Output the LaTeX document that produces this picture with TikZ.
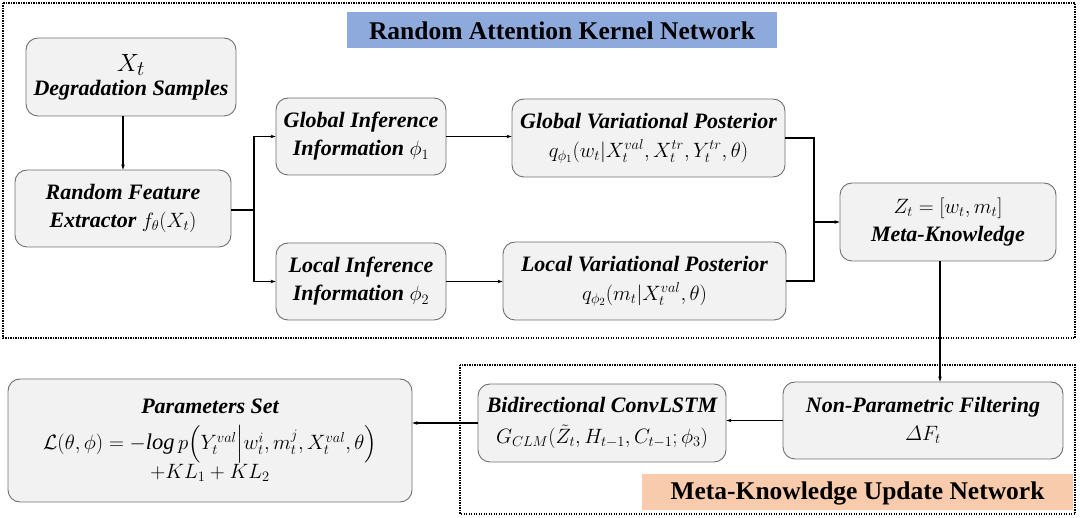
\documentclass[tikz,border=0pt]{standalone}
\usepackage{amsmath}
\usepackage{fontspec}
\setmainfont{LiberationSerif}[Extension=.ttf, UprightFont=*-Regular, BoldFont=*-Bold, ItalicFont=*-Italic, BoldItalicFont=*-BoldItalic]
\usetikzlibrary{arrows.meta,calc}
\definecolor{boxfill}{HTML}{F2F2F2}
\definecolor{boxline}{HTML}{707070}
\definecolor{titleblue}{HTML}{8EA9DB}
\definecolor{titleorange}{HTML}{F8CBAD}
\tikzset{
  blk/.style={draw=boxline, line width=0.9pt, fill=boxfill, rounded corners=12pt,
    align=center, inner sep=0pt, font=\fontsize{22}{28}\selectfont},
  arr/.style={line width=1.2pt, -{Stealth[length=5pt,width=3.5pt]}},
  conn/.style={line width=1.2pt},
  dotbox/.style={line width=1.3pt, dash pattern=on 1.3pt off 1.2pt},
  ttl/.style={inner sep=0pt, font=\fontsize{25.5}{30}\selectfont\bfseries}
}
\newcommand{\bi}[1]{{\bfseries\itshape #1}}
\newcommand{\mth}[1]{{\fontsize{22.5}{28}\selectfont$#1$}}
\begin{document}
\begin{tikzpicture}[x=1pt,y=-1pt]
\useasboundingbox (0,0) rectangle (1080,518);
% containers
\draw[dotbox] (3,3) rectangle (1075,338);
\draw[dotbox] (460,365) rectangle (1075,514);
\fill[titleblue] (347,12) rectangle (777,48);
\node[ttl] (t1) at (562,31) {Random Attention Kernel Network};
\fill[titleorange] (642,474) rectangle (1073,510);
\node[ttl] (t2) at (857.5,493) {Meta-Knowledge Update Network};
% nodes
\node[blk, minimum width=210pt, minimum height=78pt] (xt) at (131,77)
  {{\fontsize{30}{30}\selectfont$X_t$}\\[-4pt]\bi{Degradation Samples}};
\node[blk, minimum width=216pt, minimum height=77pt] (rfe) at (123,208.5)
  {\bi{Random Feature}\\\bi{Extractor} \mth{f_\theta(X_t)}};
\node[blk, minimum width=170pt, minimum height=77pt] (gi) at (361,136.5)
  {\bi{Global Inference}\\\bi{Information} \mth{\phi_1}};
\node[blk, minimum width=170pt, minimum height=77pt] (li) at (361,281.5)
  {\bi{Local Inference}\\\bi{Information} \mth{\phi_2}};
\node[blk, minimum width=273pt, minimum height=78pt] (gvp) at (648.5,138)
  {\bi{Global Variational Posterior}\\[1pt]\mth{q_{\phi_1}(w_t|X_t^{val},X_t^{tr},Y_t^{tr},\theta)}};
\node[blk, minimum width=283pt, minimum height=78pt] (lvp) at (644.5,281)
  {\bi{Local Variational Posterior}\\[1pt]\mth{q_{\phi_2}(m_t|X_t^{val},\theta)}};
\node[blk, minimum width=216pt, minimum height=78pt] (zt) at (948,222)
  {\mth{Z_t=[w_t,m_t]}\\\bi{Meta-Knowledge}};
\node[blk, minimum width=280pt, minimum height=77pt] (npf) at (923,420.5)
  {\bi{Non-Parametric Filtering}\\\mth{\varDelta F_t}};
\node[blk, minimum width=248pt, minimum height=78pt] (bid) at (602,423)
  {\bi{Bidirectional ConvLSTM}\\[3pt]\mth{G_{CLM}(\tilde{Z}_t,H_{t-1},C_{t-1};\phi_3)}};
\node[blk, minimum width=404pt, minimum height=123pt] (par) at (210,440.5)
  {\bi{Parameters Set}\\[8pt]
   \mth{\mathcal{L}(\theta,\phi)=-\mathit{log}\,p\Bigl(Y_t^{val}\Big|w_t^i,m_t^j,X_t^{val},\theta\Bigr)}\\[1pt]
   \mth{+KL_1+KL_2}};
% connectors
\coordinate (j1) at (254,210);
\coordinate (j2) at (814,222);
\coordinate (j3) at (940,0);
\draw[arr] (rfe.north |- xt.south) -- (rfe.north);
\draw[conn] (rfe.east |- j1) -- (j1);
\draw[arr] (j1) |- (gi.west);
\draw[arr] (j1) |- (li.west);
\draw[arr] (gi.east) -- (gi.east -| gvp.west);
\draw[arr] (li.east) -- (li.east -| lvp.west);
\draw[conn] (gvp.east) -| (j2);
\draw[conn] (lvp.east) -| (j2);
\draw[arr] (j2) -- (zt.west);
\draw[arr] (zt.south -| j3) -- (npf.north -| j3);
\draw[arr] (npf.west) -- (npf.west -| bid.east);
\draw[arr] (bid.west) -- (bid.west -| par.east);
\end{tikzpicture}
\end{document}
